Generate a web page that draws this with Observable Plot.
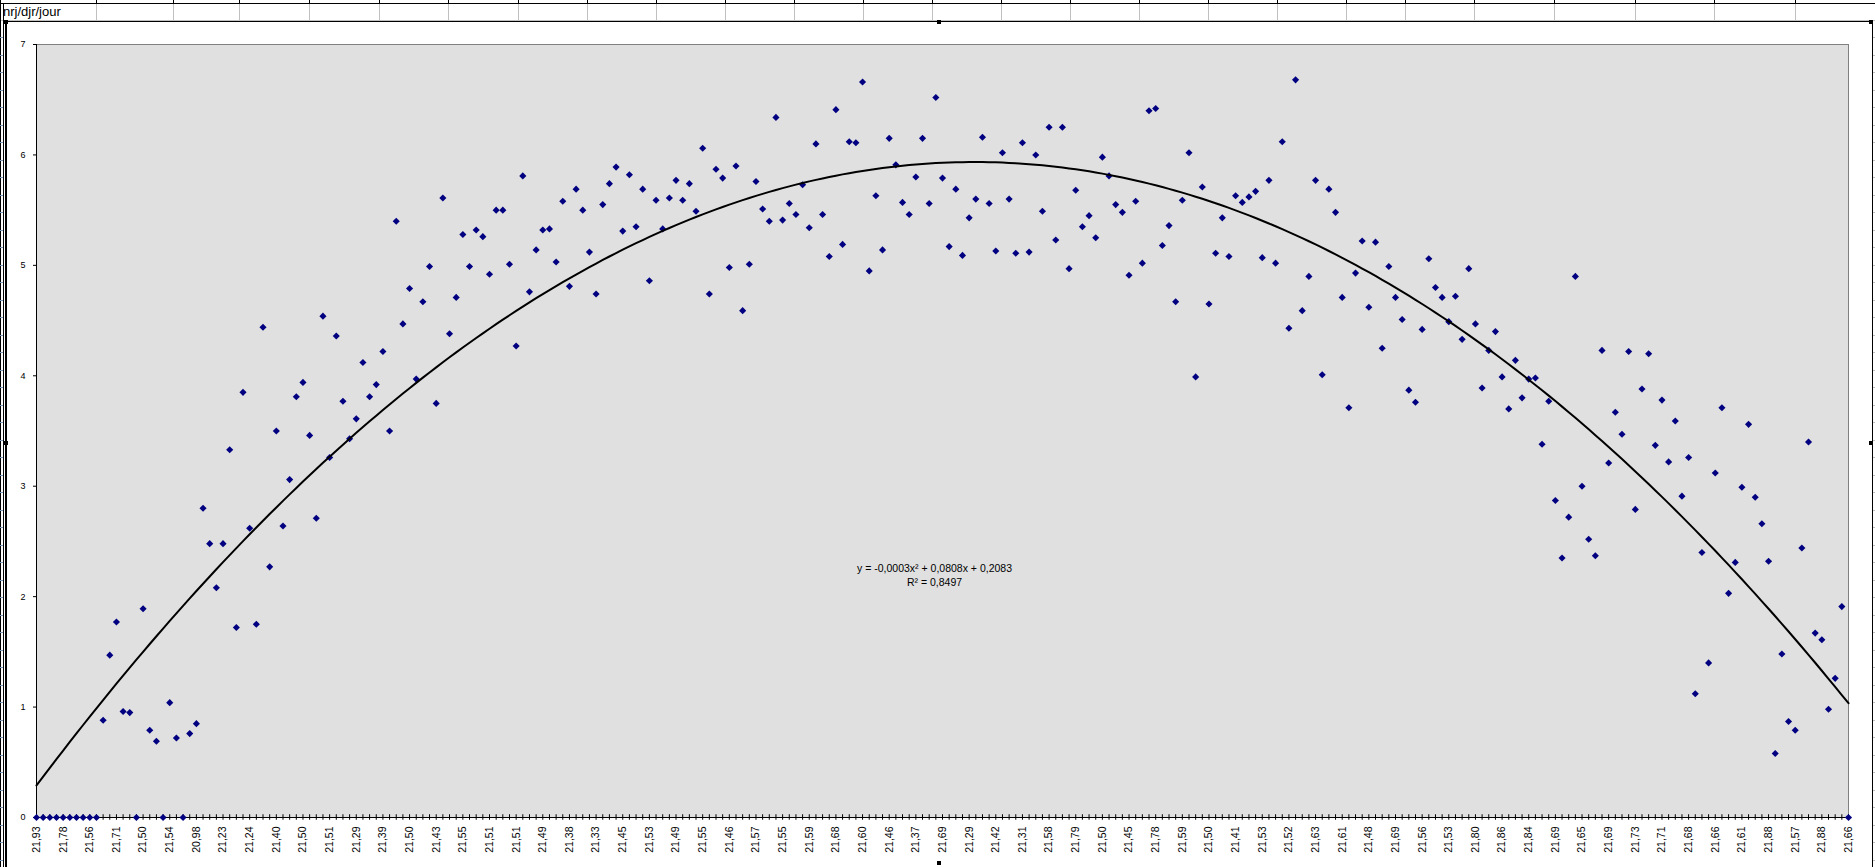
<!DOCTYPE html>
<html>
<head>
<meta charset="utf-8">
<script src="https://cdn.jsdelivr.net/npm/d3@7"></script>
<script src="https://cdn.jsdelivr.net/npm/@observablehq/plot@0.6"></script>
<style>
  html, body { margin: 0; padding: 0; background: #ffffff; }
  body { width: 1875px; height: 867px; overflow: hidden; position: relative; font-family: "Liberation Sans", Arial, sans-serif; }
  .abs { position: absolute; }
  #cellText { left: 3px; top: 4px; font-size: 13px; color: #000; line-height: 16px; }
  #chartArea { left: 5px; top: 21px; width: 1865px; height: 860px; border: 1px solid #000; border-left-width: 2px; background: #fff; }
  #plot { left: 0; top: 0; }
  .handle { width: 4px; height: 4px; background: #000; }
</style>
</head>
<body>
<div id="sheet"></div>
<div id="cellText" class="abs">nrj/djr/jour</div>
<div id="chartArea" class="abs"></div>
<div id="plot" class="abs"></div>
<script>
// ---- data -------------------------------------------------------------
const tickLabels = [
  "21,93","21,78","21,56","21,71","21,50","21,54","20,98","21,23","21,24","21,40",
  "21,50","21,51","21,29","21,39","21,50","21,43","21,55","21,51","21,51","21,49",
  "21,38","21,33","21,45","21,53","21,49","21,55","21,46","21,57","21,55","21,59",
  "21,68","21,60","21,46","21,37","21,69","21,29","21,42","21,31","21,58","21,79",
  "21,50","21,45","21,78","21,59","21,50","21,41","21,53","21,52","21,63","21,61",
  "21,48","21,69","21,56","21,53","21,80","21,86","21,84","21,69","21,65","21,69",
  "21,73","21,71","21,68","21,66","21,61","21,88","21,57","21,88","21,66"
];
const labelStep = 4;

const values = [
  0,0,0,0,0,0,0,0,0,0,
  0.88,1.47,1.77,0.96,0.95,0,1.89,0.79,0.69,0,
  1.04,0.72,0,0.76,0.85,2.80,2.48,2.08,2.48,3.33,
  1.72,3.85,2.62,1.75,4.44,2.27,3.50,2.64,3.06,3.81,
  3.94,3.46,2.71,4.54,3.26,4.36,3.77,3.43,3.61,4.12,
  3.81,3.92,4.22,3.50,5.40,4.47,4.79,3.97,4.67,4.99,
  3.75,5.61,4.38,4.71,5.28,4.99,5.32,5.26,4.92,5.50,
  5.50,5.01,4.27,5.81,4.76,5.14,5.32,5.33,5.03,5.58,
  4.81,5.69,5.50,5.12,4.74,5.55,5.74,5.89,5.31,5.82,
  5.35,5.69,4.86,5.59,5.33,5.61,5.77,5.59,5.74,5.49,
  6.06,4.74,5.87,5.79,4.98,5.90,4.59,5.01,5.76,5.51,
  5.40,6.34,5.41,5.56,5.46,5.73,5.34,6.10,5.46,5.08,
  6.41,5.19,6.12,6.11,6.66,4.95,5.63,5.14,6.15,5.91,
  5.57,5.46,5.80,6.15,5.56,6.52,5.79,5.17,5.69,5.09,
  5.43,5.60,6.16,5.56,5.13,6.02,5.60,5.11,6.11,5.12,
  6.00,5.49,6.25,5.23,6.25,4.97,5.68,5.35,5.45,5.25,
  5.98,5.81,5.55,5.48,4.91,5.58,5.02,6.40,6.42,5.18,
  5.36,4.67,5.59,6.02,3.99,5.71,4.65,5.11,5.43,5.08,
  5.63,5.57,5.62,5.67,5.07,5.77,5.02,6.12,4.43,6.68,
  4.59,4.90,5.77,4.01,5.69,5.48,4.71,3.71,4.93,5.22,
  4.62,5.21,4.25,4.99,4.71,4.51,3.87,3.76,4.42,5.06,
  4.80,4.71,4.49,4.72,4.33,4.97,4.47,3.89,4.23,4.40,
  3.99,3.70,4.14,3.80,3.97,3.98,3.38,3.77,2.87,2.35,
  2.72,4.90,3.00,2.52,2.37,4.23,3.21,3.67,3.47,4.22,
  2.79,3.88,4.20,3.37,3.78,3.22,3.59,2.91,3.26,1.12,
  2.40,1.40,3.12,3.71,2.03,2.31,2.99,3.56,2.90,2.66,
  2.32,0.58,1.48,0.87,0.79,2.44,3.40,1.67,1.61,0.98,
  1.26,1.91,0
];
const yTicks = [0, 1, 2, 3, 4, 5, 6, 7];
const trendText = "y = -0,0003x\u00B2 + 0,0808x + 0,2083\nR\u00B2 = 0,8497";
const trendTextPos = {x: 134.8, y: 2.2};

// ---- derived ----------------------------------------------------------
const points = values.map((v, i) => ({i, v}));
const idx = points.map(d => d.i);
const labelIdx = tickLabels.map((_, k) => k * labelStep);

// polynomial (order 2) least squares trendline, x = 1..n as in the spreadsheet
function quadFit(xs, ys) {
  let S = [0,0,0,0,0], T = [0,0,0];
  for (let k = 0; k < xs.length; k++) {
    const x = xs[k], y = ys[k];
    let p = 1;
    for (let e = 0; e <= 4; e++) { S[e] += p; if (e <= 2) T[e] += p * y; p *= x; }
  }
  const M = [[S[0],S[1],S[2],T[0]],[S[1],S[2],S[3],T[1]],[S[2],S[3],S[4],T[2]]];
  for (let c = 0; c < 3; c++) {
    let piv = c;
    for (let r = c+1; r < 3; r++) if (Math.abs(M[r][c]) > Math.abs(M[piv][c])) piv = r;
    [M[c], M[piv]] = [M[piv], M[c]];
    for (let r = 0; r < 3; r++) if (r !== c) {
      const f = M[r][c] / M[c][c];
      for (let k = c; k < 4; k++) M[r][k] -= f * M[c][k];
    }
  }
  return {c: M[0][3]/M[0][0], b: M[1][3]/M[1][1], a: M[2][3]/M[2][2]};
}
const coef = quadFit(points.map(d => d.i + 1), values);
const fit = points.map(d => {
  const x = d.i + 1;
  return {i: d.i, f: coef.a*x*x + coef.b*x + coef.c};
});

// ---- spreadsheet decoration (behind the chart) -------------------------
const sheet = document.getElementById("sheet");
function box(l, t, w, h, bg) {
  const d = document.createElement("div");
  d.className = "abs";
  Object.assign(d.style, {left: l+"px", top: t+"px", width: w+"px", height: h+"px", background: bg});
  sheet.appendChild(d);
}
const colEdges = [96,173,239,309,379,448,518,587,656,725,794,863,932,1001,1070,1139,1208,1277,1346,1405,1474,1554,1635,1714,1795];
box(0, 3, 1875, 1, "#000");
box(0, 20, 1875, 1, "#c0c0c0");
colEdges.forEach(x => { box(x, 0, 1, 3, "#000"); box(x, 4, 1, 17, "#c0c0c0"); });
box(0, 0, 1, 867, "#000");
box(3, 3, 1, 864, "#000");
for (let y = 37; y < 867; y += 17.5) { box(0, Math.round(y), 3, 1, "#7f9db9"); box(1872, Math.round(y), 3, 1, "#c0c0c0"); }

// ---- chart ------------------------------------------------------------
const chart = Plot.plot({
  width: 1875,
  height: 867,
  marginLeft: 36,
  marginRight: 27,
  marginTop: 44,
  marginBottom: 50,
  style: {background: "transparent", fontFamily: "'Liberation Sans', Arial, sans-serif", color: "#000", overflow: "visible"},
  x: {domain: [0, values.length - 1], axis: null},
  y: {domain: [0, 7], axis: null},
  marks: [
    Plot.frame({fill: "#e0e0e0", stroke: "#808080"}),
    Plot.axisY({ticks: yTicks, tickSize: 3, tickPadding: 8, tickFormat: d => d, label: null, fontSize: 9, stroke: "#000"}),
    Plot.ruleX([0], {stroke: "#000", strokeWidth: 1}),
    Plot.ruleY([0], {stroke: "#000", strokeWidth: 1}),
    Plot.ruleX(idx, {x: d => d, y1: -0.025, y2: 0.025, stroke: "#000", strokeWidth: 1}),
    Plot.text(labelIdx, {x: d => d, y: () => 0, text: d => tickLabels[d / labelStep], rotate: -90, textAnchor: "end", dy: 9, fontSize: 10.5, fill: "#000"}),
    Plot.dot(points, {x: "i", y: "v", symbol: "diamond2", r: 3.2, fill: "#000080", stroke: "none"}),
    Plot.line(fit, {x: "i", y: "f", stroke: "#000", strokeWidth: 2}),
    Plot.text([trendText], {x: () => trendTextPos.x, y: () => trendTextPos.y, text: d => d, fontSize: 10.5, lineHeight: 1.35, textAnchor: "middle", fill: "#000"})
  ]
});
document.getElementById("plot").appendChild(chart);

// selection handles of the chart object
[[4,20],[937,20],[1869,20],[4,441],[1869,441],[937,861]].forEach(([l,t]) => {
  const h = document.createElement("div");
  h.className = "abs handle";
  h.style.left = l + "px"; h.style.top = t + "px";
  document.body.appendChild(h);
});
</script>
</body>
</html>
